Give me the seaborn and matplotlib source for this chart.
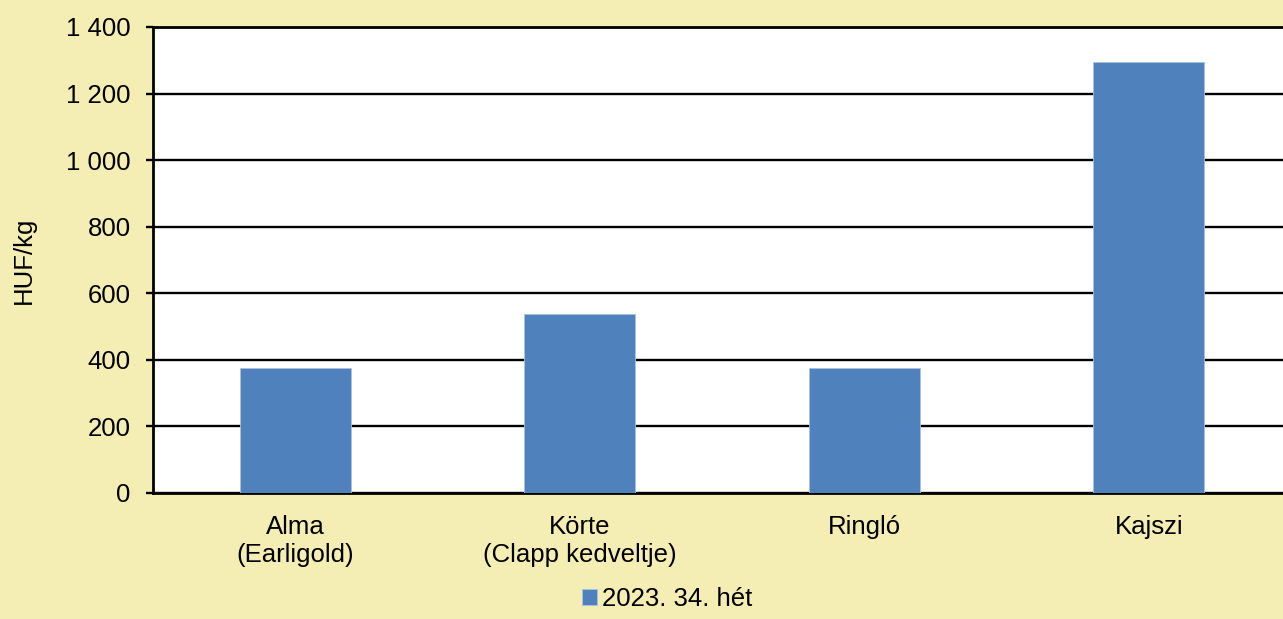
import matplotlib
matplotlib.use("Agg")
import matplotlib.pyplot as plt
import matplotlib.ticker as mticker
import pandas as pd
import seaborn as sns

# Data
categories = ["Alma\n(Earligold)", "Körte\n(Clapp kedveltje)", "Ringló", "Kajszi"]
prices = [375, 538, 375, 1296]
series_label = "2023. 34. hét"
y_ticks = [0, 200, 400, 600, 800, 1000, 1200, 1400]

BG = "#F4EDB4"
BAR = "#4F81BD"
FS = 18.5

sns.set_theme(style="white")
plt.rcParams["font.family"] = ["Liberation Sans", "DejaVu Sans"]
plt.rcParams["text.color"] = "black"

df = pd.DataFrame({"category": categories, "price": prices})

fig = plt.figure(figsize=(12.83, 6.19), dpi=100, facecolor=BG)
ax = fig.add_axes([153 / 1283, 126 / 619, 1138 / 1283, 466 / 619])
ax.set_facecolor("white")

sns.barplot(data=df, x="category", y="price", color=BAR, saturation=1,
            width=0.39, label=series_label, ax=ax, zorder=3,
            edgecolor="#A9C2E3", linewidth=0.6)

ax.set_ylim(0, 1400)
ax.set_yticks(y_ticks)
ax.yaxis.set_major_formatter(
    mticker.FuncFormatter(lambda v, p: f"{int(v):,}".replace(",", " ")))

# horizontal gridlines
ax.yaxis.grid(True, color="black", linewidth=1.7)
ax.set_axisbelow(True)

ax.spines["right"].set_visible(False)
for side in ["left", "bottom", "top"]:
    ax.spines[side].set_visible(True)
    ax.spines[side].set_color("black")
    ax.spines[side].set_linewidth(2)

ax.tick_params(axis="y", which="major", left=True, length=5, width=1.7,
               color="black", labelsize=FS, pad=11, labelcolor="black")
ax.tick_params(axis="x", bottom=False, labelsize=FS, pad=10, labelcolor="black")
for lbl in ax.get_xticklabels():
    lbl.set_linespacing(1.2)

ax.set_xlabel("")
ax.set_ylabel("HUF/kg", fontsize=FS, color="black")
ax.yaxis.set_label_coords(-0.103, 0.5)

if ax.legend_:
    ax.legend_.remove()
fig.legend(loc="lower center", bbox_to_anchor=(0.52, -0.025), frameon=False,
           fontsize=FS, handlelength=0.6, handleheight=0.6, handletextpad=0.2)

fig.savefig("out.png", dpi=100, facecolor=BG)
